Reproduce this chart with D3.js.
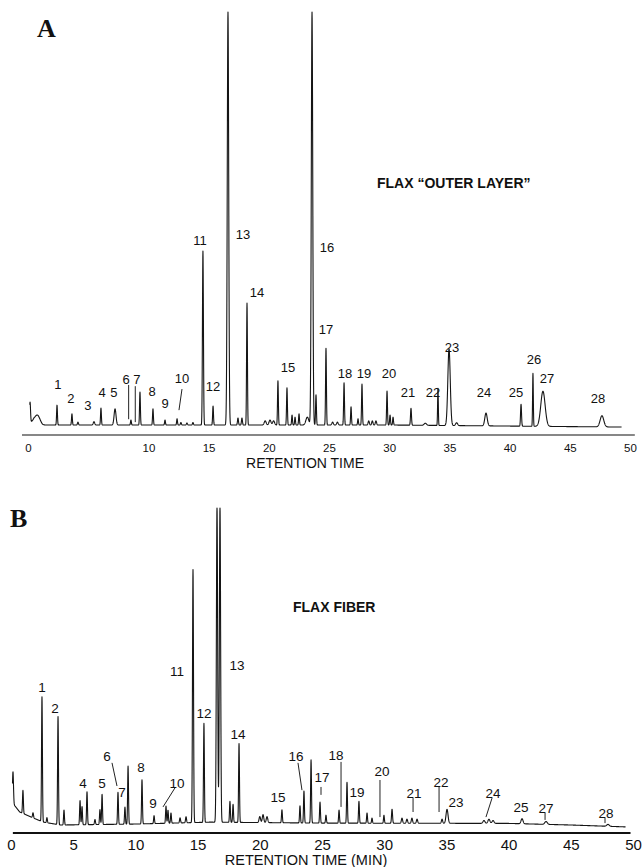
<!DOCTYPE html>
<html>
<head>
<meta charset="utf-8">
<script src="https://cdn.jsdelivr.net/npm/d3@7"></script>
<style>
  html, body { margin: 0; padding: 0; background: #fff; }
  svg { display: block; }
  text { font-family: "Liberation Sans", Arial, sans-serif; fill: #111; }
</style>
</head>
<body>
<svg id="chart" width="642" height="867"></svg>
<script>
// ---------------- DATA ----------------
// Panel A: flax "outer layer" -- peak retention times (min), relative heights (% of full scale), widths (sigma, min)
const peakTimesA   = [0.17, 0.8, 2.41, 3.65, 4.15, 5.48, 6.06, 7.23, 8.55, 9.30, 10.38, 11.38, 12.38, 12.7, 13.2, 13.7,
                      14.53, 15.37, 16.61, 17.44, 17.77, 18.19, 19.7, 20.1, 20.4, 20.76, 21.51, 21.93, 22.18, 22.51,
                      23.2, 23.59, 23.92, 24.75, 25.3, 25.7, 26.25, 26.83, 27.41, 27.74, 28.3, 28.6, 28.9,
                      29.82, 30.07, 30.32, 31.81, 33.0, 34.05, 34.97, 35.6, 38.04, 40.95, 41.94, 42.77, 47.67];
const peakHeightsA = [5.0, 1.7, 4.8, 2.7, 0.7, 0.8, 4.1, 3.9, 1.2, 8.0, 3.9, 1.2, 1.5, 0.6, 0.5, 0.6,
                      42.1, 4.6, 100, 1.7, 1.7, 29.5, 1.0, 1.2, 1.0, 10.7, 9.0, 2.4, 1.9, 2.7,
                      1.9, 100, 7.3, 18.6, 0.7, 0.7, 10.2, 4.4, 1.5, 9.9, 1.0, 1.0, 1.0,
                      8.2, 2.4, 1.9, 4.1, 0.5, 9.0, 18.6, 0.7, 3.1, 5.3, 12.8, 8.5, 2.7];
const peakWidthsA  = [0.04, 0.2, 0.035, 0.035, 0.04, 0.06, 0.035, 0.08, 0.035, 0.035, 0.035, 0.035, 0.035, 0.04, 0.04, 0.04,
                      0.04, 0.035, 0.06, 0.04, 0.04, 0.035, 0.08, 0.08, 0.08, 0.035, 0.035, 0.035, 0.035, 0.035,
                      0.12, 0.06, 0.035, 0.035, 0.06, 0.06, 0.035, 0.035, 0.035, 0.035, 0.05, 0.05, 0.05,
                      0.035, 0.035, 0.035, 0.04, 0.1, 0.03, 0.1, 0.08, 0.1, 0.04, 0.03, 0.18, 0.15];
const baselineA    = [[0.15, 0.5], [0.5, 1.2], [1.2, 0], [30, 0], [49.3, -0.5]];

// Panel B: flax fiber
const peakTimesB   = [0.16, 0.96, 1.77, 2.49, 2.89, 3.78, 4.26, 5.55, 5.71, 6.11, 6.75, 7.15, 7.32, 8.60, 9.16, 9.41,
                      10.53, 11.50, 12.46, 12.62, 12.86, 13.59, 14.07, 14.63, 15.51, 16.56, 16.80, 17.60, 17.85,
                      18.33, 20.0, 20.26, 20.58, 21.78, 23.23, 23.55, 24.12, 24.84, 25.32, 26.37, 27.01, 27.97,
                      28.62, 29.02, 29.98, 30.63, 31.43, 31.83, 32.23, 32.64, 34.65, 35.05, 38.02, 38.42, 38.75,
                      41.08, 43.01, 47.99];
const peakHeightsB = [10.0, 7.3, 1.6, 39.4, 1.6, 34.1, 4.7, 7.6, 5.7, 10.4, 1.6, 4.7, 9.5, 10.1, 5.4, 18.3,
                      13.9, 2.5, 5.4, 4.1, 3.2, 1.6, 1.9, 79.8, 31.2, 100, 100, 6.6, 5.7,
                      24.9, 1.9, 2.5, 1.9, 4.1, 5.4, 10.1, 19.9, 6.6, 2.5, 4.1, 12.9, 6.9,
                      3.2, 1.6, 2.5, 4.4, 1.6, 1.3, 1.6, 1.3, 1.3, 4.4, 0.9, 1.3, 0.9,
                      1.6, 0.9, 0.6];
const peakWidthsB  = [0.04, 0.035, 0.04, 0.035, 0.035, 0.035, 0.035, 0.035, 0.035, 0.035, 0.04, 0.035, 0.035, 0.035, 0.035, 0.035,
                      0.035, 0.035, 0.035, 0.035, 0.035, 0.04, 0.04, 0.04, 0.035, 0.05, 0.05, 0.035, 0.035,
                      0.035, 0.06, 0.06, 0.06, 0.035, 0.035, 0.035, 0.035, 0.035, 0.035, 0.035, 0.035, 0.035,
                      0.035, 0.035, 0.035, 0.04, 0.05, 0.05, 0.05, 0.05, 0.05, 0.08, 0.08, 0.08, 0.08,
                      0.08, 0.1, 0.1];
const baselineB    = [[0.12, 7], [0.7, 4.1], [1.8, 2.2], [2.6, 0.9], [4, 0], [10, 0.3], [16, 0.9], [25, 0.6],
                      [40, 0.5], [45, 0], [49.4, -0.6]];

// Peak number labels: [text, time, level]
const labelsA = [["1",2.49,9.9],["2",3.57,6.5],["3",4.98,4.8],["4",6.15,8.0],["5",7.14,8.0],["6",8.14,11.1],
                 ["7",9.05,11.1],["8",10.30,8.2],["9",11.38,5.3],["10",12.79,11.4],["11",14.29,44.6],["12",15.37,9.4],
                 ["13",17.86,46.2],["14",19.02,32.2],["15",21.59,14.0],["16",24.83,43.1],["17",24.75,23.2],
                 ["18",26.33,12.6],["19",27.91,12.6],["20",29.98,12.6],["21",31.56,8.0],["22",33.64,8.0],
                 ["23",35.22,18.9],["24",37.87,8.0],["25",40.53,8.0],["26",42.03,16.0],["27",43.11,11.4],["28",47.34,6.5]];
const leadersA = [[8.36, 9.7, 8.36, 1.4], [8.91, 9.4, 8.91, 0.7], [12.79, 8.7, 12.54, 3.6]];

const labelsB = [["1",2.49,43.5],["2",3.54,36.9],["4",5.79,13.2],["5",7.32,13.2],["6",7.72,21.8],["7",8.92,10.4],
                 ["8",10.45,18.3],["9",11.41,6.9],["10",13.34,13.2],["11",13.34,48.6],["12",15.51,35.3],
                 ["13",18.17,50.5],["14",18.25,28.7],["15",21.46,8.8],["16",22.91,21.8],["17",25.0,15.1],
                 ["18",26.13,22.1],["19",27.81,10.4],["20",29.82,17.0],["21",32.40,10.1],["22",34.57,13.6],
                 ["23",35.77,7.3],["24",38.75,10.1],["25",41.0,5.7],["27",43.01,5.4],["28",47.83,3.8]];
const leadersB = [[8.12,19.6,8.52,12.3],[13.18,11.7,12.22,5.7],[23.07,19.6,23.39,11.0],[24.92,12.0,24.92,9.5],
                  [26.53,19.9,26.53,5.7],[29.66,14.2,29.66,2.5],[32.32,8.5,32.32,4.1],[34.41,12.0,34.41,4.1],
                  [38.67,8.5,38.18,2.5],[42.93,3.8,42.93,1.6],[47.75,2.2,47.75,0.6]];

const ticksA = [0, 10, 15, 20, 25, 30, 35, 40, 45, 50];
const ticksB = [0, 5, 10, 15, 20, 25, 30, 35, 40, 45, 50];

// ---------------- DRAWING ----------------
const svg = d3.select("#chart");

function trace(times, heights, widths, baseline) {
  const t0 = baseline[0][0], t1 = baseline[baseline.length - 1][0];
  const bx = baseline.map(d => d[0]), by = baseline.map(d => d[1]);
  const base = d3.scaleLinear(bx, by);
  const pts = [];
  for (let t = t0; t <= t1 + 1e-9; t += 0.01) {
    let v = base(t);
    for (let i = 0; i < times.length; i++) {
      const z = (t - times[i]) / widths[i];
      if (Math.abs(z) < 6) v += heights[i] * Math.exp(-0.5 * z * z);
    }
    pts.push([t, Math.min(v, 100.5)]);
  }
  return pts;
}

function panel(cfg) {
  const g = svg.append("g");
  const x = d3.scaleLinear([0, 50], cfg.xRange);
  const y = d3.scaleLinear([0, 100], cfg.yRange);

  const pts = trace(cfg.times, cfg.heights, cfg.widths, cfg.baseline);
  g.append("path")
    .datum(pts)
    .attr("fill", "none")
    .attr("stroke", "#151515")
    .attr("stroke-width", 1.1)
    .attr("stroke-linejoin", "round")
    .attr("d", d3.line().x(d => x(d[0])).y(d => y(Math.min(d[1], 100))));

  // axis
  const axis = d3.axisBottom(x).tickValues(cfg.ticks).tickSize(0).tickPadding(cfg.tickPad)
    .tickFormat(d3.format("d"));
  const ag = g.append("g").attr("transform", `translate(0,${cfg.axisY})`).call(axis);
  ag.select(".domain").remove();
  ag.selectAll("text").style("font-size", cfg.tickFont + "px")
    .style("font-family", '"Liberation Sans", Arial, sans-serif').attr("fill", "#111");
  g.append("line")
    .attr("x1", x(cfg.axisExt[0])).attr("x2", x(cfg.axisExt[1]))
    .attr("y1", cfg.axisY).attr("y2", cfg.axisY)
    .attr("stroke", "#111").attr("stroke-width", cfg.axisW);

  // leader lines
  g.selectAll("line.leader").data(cfg.leaders).join("line")
    .attr("class", "leader")
    .attr("x1", d => x(d[0])).attr("y1", d => y(d[1]))
    .attr("x2", d => x(d[2])).attr("y2", d => y(d[3]))
    .attr("stroke", "#222").attr("stroke-width", 1);

  // peak labels
  g.selectAll("text.pk").data(cfg.labels).join("text")
    .attr("class", "pk")
    .attr("x", d => x(d[1])).attr("y", d => y(d[2]))
    .attr("text-anchor", "middle")
    .attr("dy", "0.36em")
    .style("font-size", cfg.labelFont + "px")
    .text(d => d[0]);

  // axis title
  g.append("text")
    .attr("x", cfg.titleX).attr("y", cfg.titleY)
    .attr("text-anchor", "middle")
    .style("font-size", cfg.titleFont + "px")
    .text(cfg.title);

  // sample name
  g.append("text")
    .attr("x", cfg.nameX).attr("y", cfg.nameY)
    .style("font-size", "14px").style("font-weight", "bold")
    .text(cfg.name);

  // panel letter
  g.append("text")
    .attr("x", cfg.letterX).attr("y", cfg.letterY)
    .style("font-family", '"Liberation Serif", "Times New Roman", serif')
    .style("font-size", "26px").style("font-weight", "bold")
    .text(cfg.letter);
}

panel({
  times: peakTimesA, heights: peakHeightsA, widths: peakWidthsA, baseline: baselineA,
  xRange: [28, 630], yRange: [425, 12], axisY: 435, axisExt: [-0.5, 50.4], axisW: 1.2,
  ticks: ticksA, tickPad: 9, tickFont: 11.5, labels: labelsA, leaders: leadersA, labelFont: 13,
  title: "RETENTION TIME", titleX: 305, titleY: 468, titleFont: 14,
  name: "FLAX \u201COUTER LAYER\u201D", nameX: 377, nameY: 188,
  letter: "A", letterX: 37, letterY: 37
});

panel({
  times: peakTimesB, heights: peakHeightsB, widths: peakWidthsB, baseline: baselineB,
  xRange: [11, 633], yRange: [825, 508], axisY: 833, axisExt: [0.15, 49.8], axisW: 2,
  ticks: ticksB, tickPad: 6.2, tickFont: 15, labels: labelsB, leaders: leadersB, labelFont: 13.5,
  title: "RETENTION TIME (MIN)", titleX: 306, titleY: 865, titleFont: 14.5,
  name: "FLAX FIBER", nameX: 293, nameY: 612,
  letter: "B", letterX: 10, letterY: 527
});
</script>
</body>
</html>
